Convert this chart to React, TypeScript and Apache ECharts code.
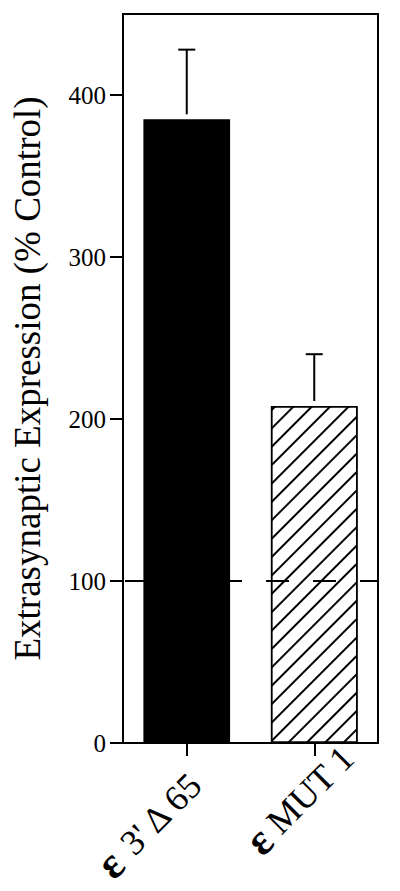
import React, { useEffect, useRef } from "react";
import * as echarts from "echarts";

// ---- data ----
const categories = ["ε 3' Δ 65", "ε MUT 1"];
const means = [385, 208];
const errorTops = [428, 240];
const yTickValues = [0, 100, 200, 300, 400];
const controlLevel = 100;
const yTitle = "Extrasynaptic Expression (% Control)";

const SERIF = "'Liberation Serif', 'Times New Roman', serif";
const labelPadding = [
  [106, 41, 0, 0],
  [103, 4, 0, 0],
];

export default function App() {
  const ref = useRef<HTMLDivElement>(null);

  useEffect(() => {
    const chart = echarts.init(ref.current!, null, { renderer: "svg" });
    chart.setOption({
      animation: false,
      backgroundColor: "#fff",
      grid: {
        left: 123,
        right: 22,
        top: 14,
        bottom: 148,
        show: true,
        borderColor: "#000",
        borderWidth: 2,
        backgroundColor: "transparent",
        outerBoundsMode: "none",
      },
      xAxis: {
        type: "category",
        data: categories.map((c, i) => ({
          value: c,
          textStyle: { padding: labelPadding[i] },
        })),
        axisLine: { show: true, lineStyle: { color: "#000", width: 2 } },
        axisTick: {
          show: true,
          alignWithLabel: true,
          length: 13,
          lineStyle: { color: "#000", width: 2 },
        },
        axisLabel: {
          rotate: 45,
          margin: -30,
          color: "#000",
          interval: 0,
          fontFamily: SERIF,
          fontSize: 36,
          formatter: (v: string) => {
            const parts = v.split(" ");
            return `{eps|${parts[0]}}{rest| ${parts.slice(1).join(" ")}}`;
          },
          rich: {
            eps: { fontFamily: SERIF, fontSize: 44, fontWeight: "bold", color: "#000" },
            rest: { fontFamily: SERIF, fontSize: 36, color: "#000" },
          },
        },
        splitLine: { show: false },
      },
      yAxis: {
        type: "value",
        min: 0,
        max: 450,
        interval: 50,
        name: yTitle,
        nameLocation: "middle",
        nameRotate: 90,
        nameGap: 77,
        nameTextStyle: { fontFamily: SERIF, fontSize: 37, color: "#000" },
        axisLine: { show: true, lineStyle: { color: "#000", width: 2 } },
        axisTick: {
          show: true,
          length: 13,
          lineStyle: { color: "#000", width: 2 },
          customValues: yTickValues,
        },
        axisLabel: {
          margin: 17,
          color: "#000",
          fontFamily: SERIF,
          fontSize: 25,
          customValues: yTickValues,
        },
        splitLine: { show: false },
      },
      series: [
        {
          type: "bar",
          barWidth: "68%",
          data: means.map((m, i) =>
            i === 0
              ? { value: m, itemStyle: { color: "#000" } }
              : {
                  value: m,
                  itemStyle: {
                    color: "#fff",
                    borderColor: "#000",
                    borderWidth: 1.5,
                    decal: {
                      symbol: "rect",
                      symbolSize: 1,
                      color: "#000",
                      backgroundColor: "#fff",
                      dashArrayX: [1, 0],
                      dashArrayY: [1.4, 10.6],
                      rotation: -Math.PI / 4,
                    },
                  },
                }
          ),
          markLine: {
            silent: true,
            symbol: ["none", "none"],
            label: { show: false },
            lineStyle: { color: "#000", width: 2, type: [23, 24], dashOffset: -2 },
            data: [{ yAxis: controlLevel }],
          },
          z: 2,
        },
        {
          type: "custom",
          data: means.map((m, i) => [i, m, errorTops[i]]),
          renderItem: (_params: any, api: any) => {
            const top = api.coord([api.value(0), api.value(2)]);
            const base = api.coord([api.value(0), api.value(1)]);
            const style = { stroke: "#000", lineWidth: 2 };
            return {
              type: "group",
              children: [
                {
                  type: "line",
                  shape: { x1: top[0], y1: top[1], x2: base[0], y2: base[1] - 5 },
                  style,
                },
                {
                  type: "line",
                  shape: { x1: top[0] - 8.5, y1: top[1], x2: top[0] + 8.5, y2: top[1] },
                  style,
                },
              ],
            };
          },
          z: 3,
        },
      ],
    });
    return () => chart.dispose();
  }, []);

  return (
    <div
      ref={ref}
      style={{ position: "absolute", left: 0, top: 0, width: 400, height: 891 }}
    />
  );
}
